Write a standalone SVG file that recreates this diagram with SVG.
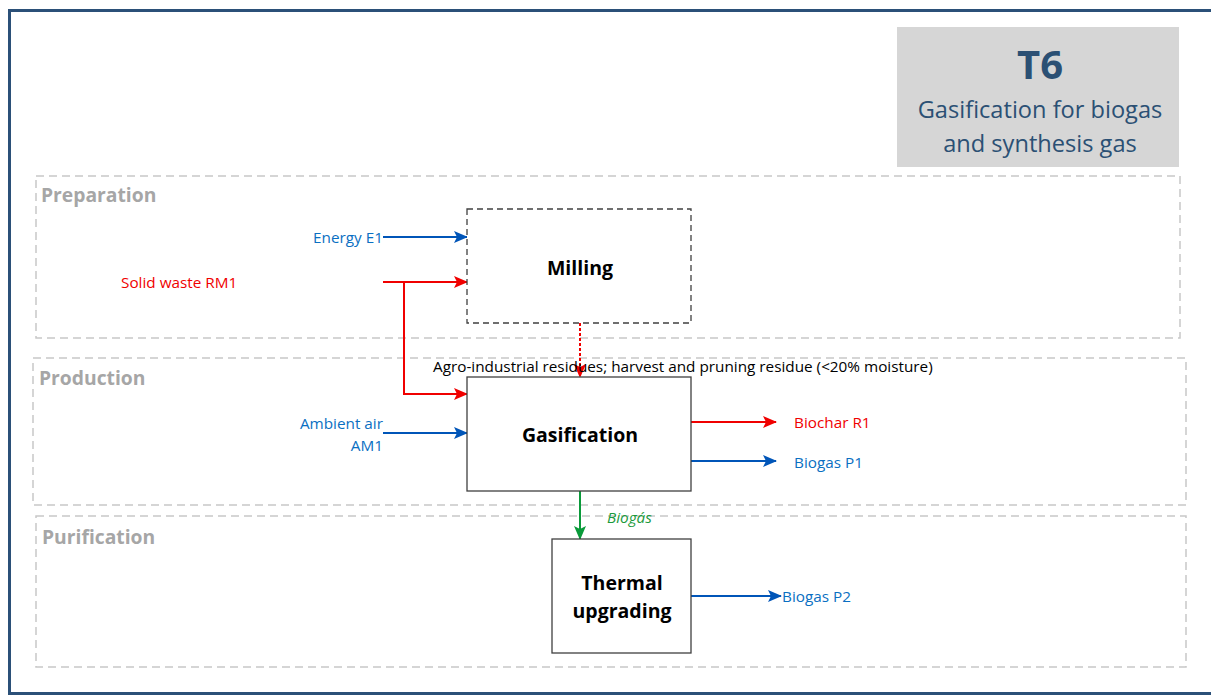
<svg xmlns="http://www.w3.org/2000/svg" width="1211" height="697" viewBox="0 0 1211 697">
<style>
.lane{fill:none;stroke:#c8c8c8;stroke-width:1.5;stroke-dasharray:8 5}
.lanelbl{font-family:"Open Sans","Liberation Sans",sans-serif;font-weight:bold;font-size:19.3px;fill:#a6a6a6}
.box{fill:#fff;stroke:#404040;stroke-width:1.3}
.boxd{fill:#fff;stroke:#404040;stroke-width:1.3;stroke-dasharray:6 4}
.boxt{font-family:"Open Sans","Liberation Sans",sans-serif;font-weight:bold;font-size:19.5px;fill:#000;text-anchor:middle}
.lbl{font-family:"Open Sans","Liberation Sans",sans-serif;font-size:15.3px}
.blue{fill:#0a6fc2}
.red{fill:#f00000}
.green{fill:#1a9a3a}
.lb{stroke:#0055b8;stroke-width:2;fill:none}
.lr{stroke:#f00000;stroke-width:2;fill:none}
.lg{stroke:#0a9a3a;stroke-width:2;fill:none}
</style>
<defs>
<marker id="ab" markerWidth="14" markerHeight="12" refX="13" refY="6" orient="auto" markerUnits="userSpaceOnUse"><path d="M0,0 L14,6 L0,12 L3,6 z" fill="#0055b8"/></marker>
<marker id="ar" markerWidth="14" markerHeight="12" refX="13" refY="6" orient="auto" markerUnits="userSpaceOnUse"><path d="M0,0 L14,6 L0,12 L3,6 z" fill="#f00000"/></marker>
<marker id="ag" markerWidth="14" markerHeight="12" refX="13" refY="6" orient="auto" markerUnits="userSpaceOnUse"><path d="M0,0 L14,6 L0,12 L3,6 z" fill="#0a9a3a"/></marker>
</defs>
<rect x="0" y="0" width="1211" height="697" fill="#fff"/>
<rect x="9.5" y="10.5" width="1230" height="683" fill="none" stroke="#2b5078" stroke-width="3"/>

<g id="title">
<rect x="897" y="27" width="282" height="140" fill="#d6d6d6"/>
<text x="1040" y="79" font-family="Open Sans,Liberation Sans,sans-serif" font-weight="bold" font-size="40" fill="#2b5074" text-anchor="middle">T6</text>
<text x="1040" y="118" font-family="Open Sans,Liberation Sans,sans-serif" font-size="23.6" fill="#2b5074" text-anchor="middle">Gasification for biogas</text>
<text x="1040" y="152" font-family="Open Sans,Liberation Sans,sans-serif" font-size="23.6" fill="#2b5074" text-anchor="middle">and synthesis gas</text>
</g>

<g id="lane-preparation">
<rect class="lane" x="36" y="176" width="1144" height="162"/>
<text class="lanelbl" x="41" y="202">Preparation</text>
</g>
<g id="lane-production">
<rect class="lane" x="33" y="358" width="1153" height="147"/>
<text class="lanelbl" x="39" y="385">Production</text>
</g>
<g id="lane-purification">
<rect class="lane" x="36" y="516" width="1150" height="151"/>
<text class="lanelbl" x="42" y="544">Purification</text>
</g>

<g id="connectors">
<line class="lb" x1="383" y1="237" x2="467" y2="237" marker-end="url(#ab)"/>
<line class="lr" x1="383" y1="282" x2="467" y2="282" marker-end="url(#ar)"/>
<polyline class="lr" points="404,282 404,394 467,394" marker-end="url(#ar)"/>
<line class="lr" x1="580" y1="323" x2="580" y2="377" stroke-dasharray="3 2" marker-end="url(#ar)"/>
<line class="lb" x1="383" y1="433" x2="467" y2="433" marker-end="url(#ab)"/>
<line class="lr" x1="691" y1="422" x2="776" y2="422" marker-end="url(#ar)"/>
<line class="lb" x1="691" y1="461" x2="776" y2="461" marker-end="url(#ab)"/>
<line class="lg" x1="580" y1="491" x2="580" y2="539" marker-end="url(#ag)"/>
<line class="lb" x1="691" y1="596" x2="781" y2="596" marker-end="url(#ab)"/>
<text class="lbl" x="433" y="372" fill="#000">Agro-industrial residues; harvest and pruning residue (&lt;20% moisture)</text>
<text class="lbl green" x="607" y="523" font-style="italic">Biogás</text>
</g>

<g id="milling">
<rect class="boxd" x="467" y="209" width="224" height="114"/>
<text class="boxt" x="580" y="275">Milling</text>
</g>
<g id="gasification">
<rect class="box" x="467" y="377" width="224" height="114"/>
<text class="boxt" x="580" y="442">Gasification</text>
</g>
<g id="thermal">
<rect class="box" x="552" y="539" width="139" height="114"/>
<text class="boxt" x="622" y="590">Thermal</text>
<text class="boxt" x="622" y="618">upgrading</text>
</g>

<g id="io-labels">
<text class="lbl blue" x="383" y="243" text-anchor="end">Energy E1</text>
<text class="lbl red" x="121" y="288">Solid waste RM1</text>
<text class="lbl blue" x="383" y="429" text-anchor="end">Ambient air</text>
<text class="lbl blue" x="383" y="451" text-anchor="end">AM1</text>
<text class="lbl red" x="794" y="428">Biochar R1</text>
<text class="lbl blue" x="794" y="468">Biogas P1</text>
<text class="lbl blue" x="782" y="602">Biogas P2</text>
</g>
</svg>
